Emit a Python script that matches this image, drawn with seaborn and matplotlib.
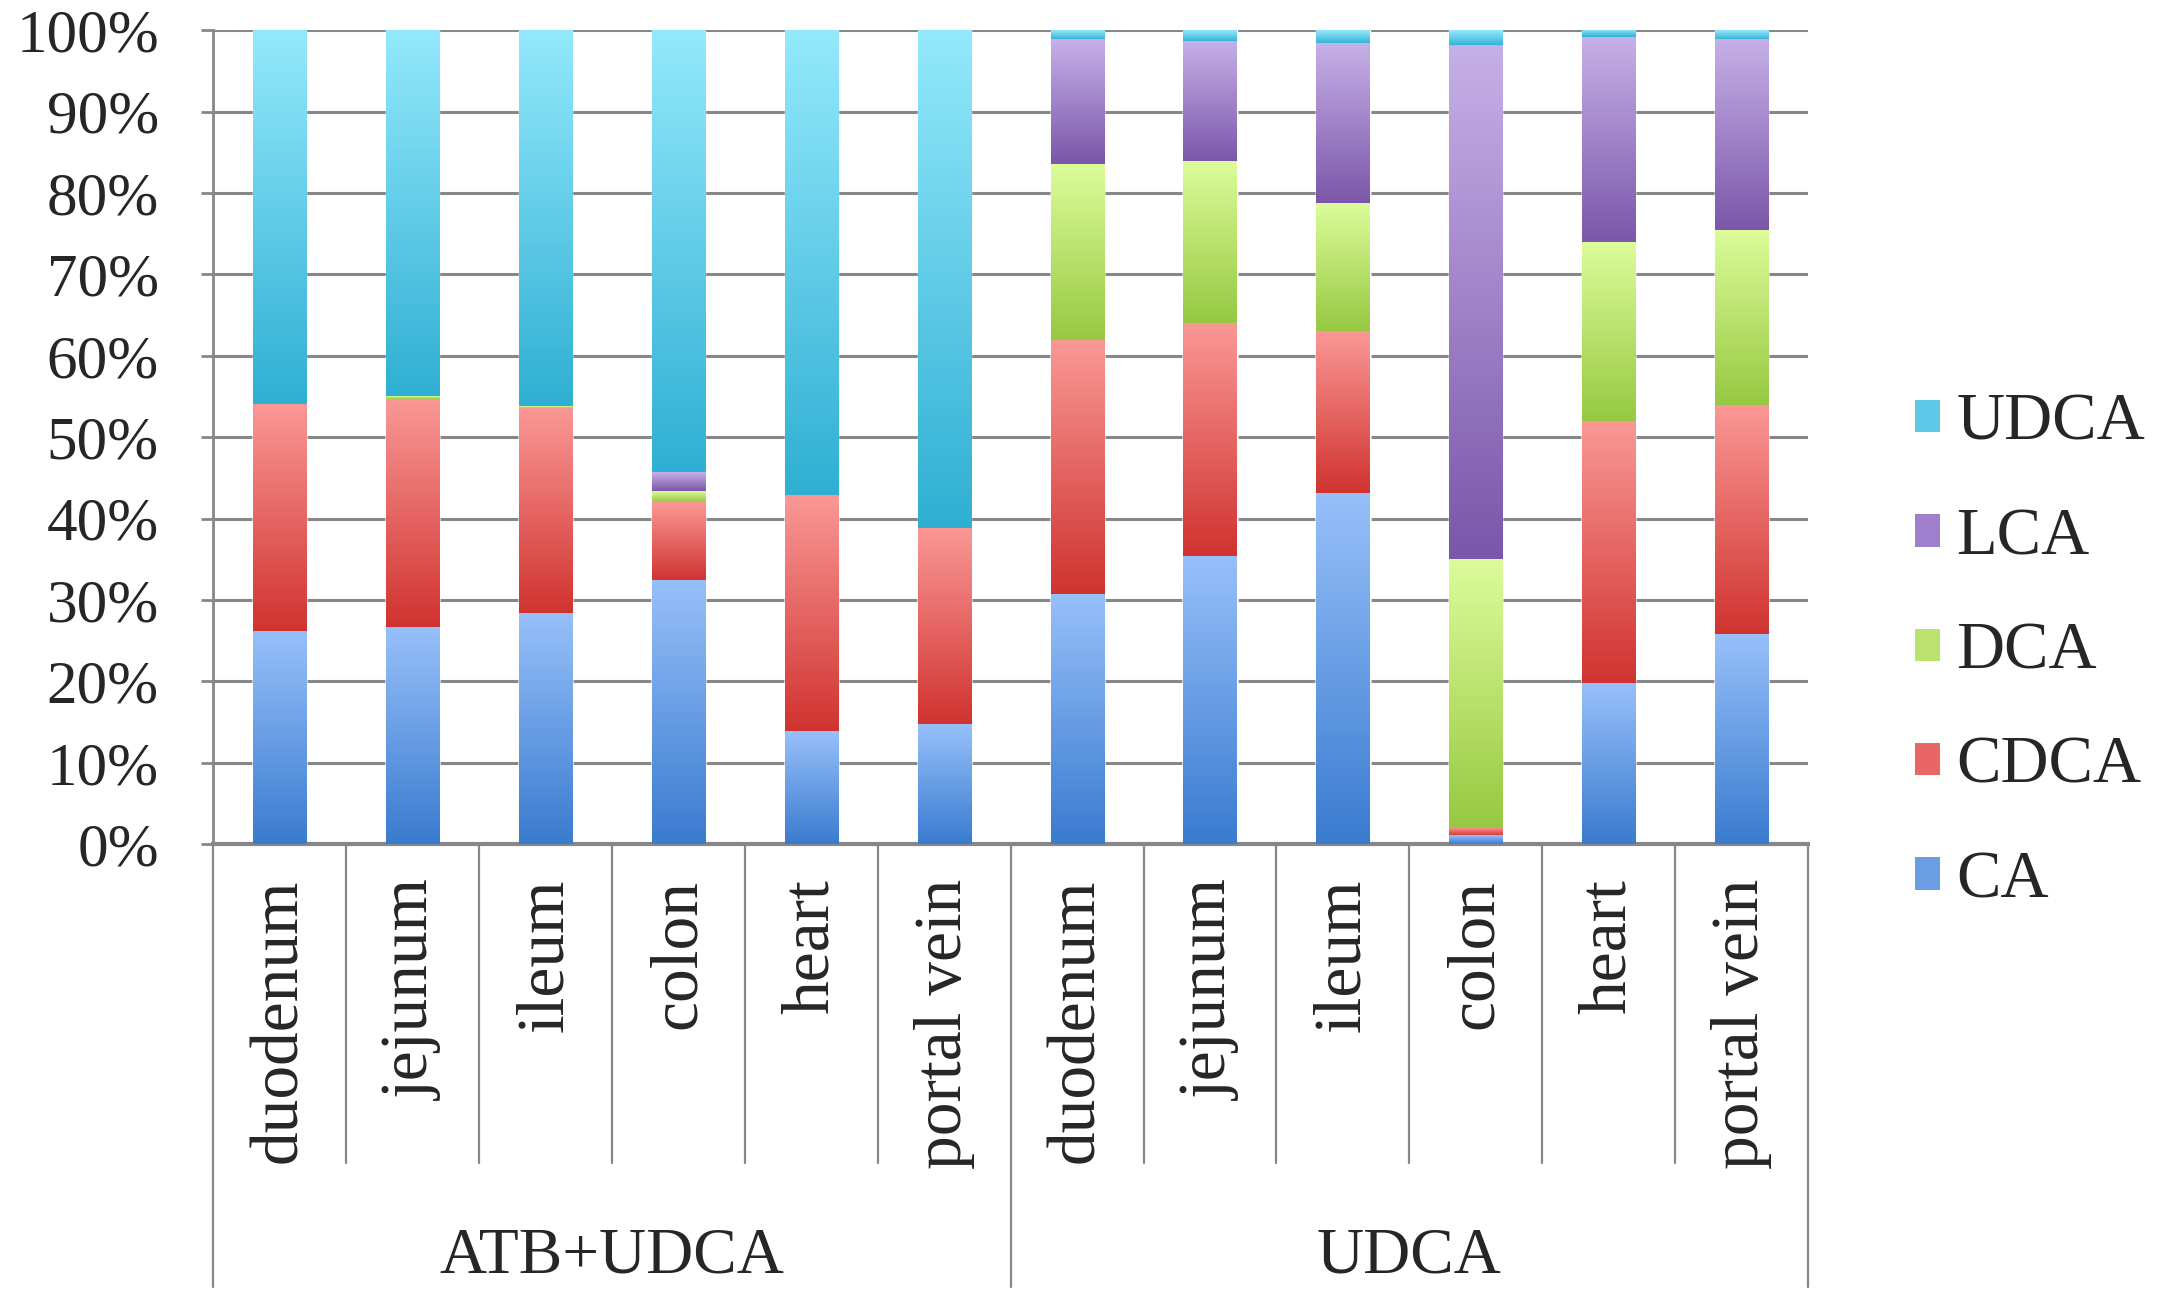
import matplotlib

matplotlib.use("Agg")

import matplotlib.pyplot as plt  # noqa: E402
import matplotlib.transforms as mtransforms  # noqa: E402
import numpy as np  # noqa: E402
import pandas as pd  # noqa: E402
import seaborn as sns  # noqa: E402
from matplotlib.colors import LinearSegmentedColormap  # noqa: E402
from matplotlib.patches import Patch  # noqa: E402

# categories
groups = ["ATB+UDCA", "UDCA"]
sites = ["duodenum", "jejunum", "ileum", "colon", "heart", "portal vein"]

# % of bile acid pool per site, 6 ATB+UDCA then 6 UDCA
ca = [26.1, 26.6, 28.3, 32.4, 13.8, 14.7, 30.7, 35.3, 43.0, 1.0, 19.7, 25.7]
cdca = [28.0, 28.1, 25.3, 9.7, 29.0, 24.1, 31.1, 28.7, 20.0, 1.0, 32.2, 28.2]
dca = [0.0, 0.3, 0.2, 1.3, 0.0, 0.0, 21.7, 19.8, 15.6, 33.0, 22.0, 21.4]
lca = [0.0, 0.0, 0.0, 2.3, 0.0, 0.0, 15.3, 14.8, 19.7, 63.1, 25.2, 23.5]
udca = [45.9, 45.0, 46.2, 54.3, 57.2, 61.2, 1.2, 1.4, 1.7, 1.9, 0.9, 1.2]

series = ["CA", "CDCA", "DCA", "LCA", "UDCA"]
values = [ca, cdca, dca, lca, udca]

# Excel-like gradient per series: (top, bottom)
_GRAD = {
    "CA": ("#97C0FA", "#3A7BCF"),
    "CDCA": ("#FA9896", "#D0332F"),
    "DCA": ("#DCFC9A", "#96C941"),
    "LCA": ("#C6B0E8", "#7B56A9"),
    "UDCA": ("#94E9FC", "#2FAFD3"),
}
_MID = {
    "CA": "#6A9DE3",
    "CDCA": "#E86764",
    "DCA": "#BBE26E",
    "LCA": "#A080CC",
    "UDCA": "#5CC8E5",
}
_LINE = "#878787"

keys = [f"{g}|{s}" for g in groups for s in sites]
df = pd.DataFrame({"key": keys})
running = np.zeros(len(keys))
for name, vals in zip(series, values):
    running = running + np.asarray(vals, dtype=float)
    df[name] = running.copy()

sns.set_theme(style="white")
plt.rcParams["font.family"] = ["Liberation Serif", "DejaVu Serif"]

fig = plt.figure(figsize=(21.59, 13.09), dpi=100)
ax = fig.add_axes([0.0987, 0.355, 0.7388, 0.622])

# stacked bars: draw cumulative totals from the top series down
layers = series[::-1]
for name in layers:
    sns.barplot(data=df, x="key", y=name, order=keys, color=_MID[name],
                saturation=1, width=0.4, ax=ax, zorder=2)

# paint each segment with its own vertical gradient
grad = np.linspace(0, 1, 256).reshape(-1, 1)
n = len(keys)
for li, name in enumerate(layers):
    cmap = LinearSegmentedColormap.from_list(name, [_GRAD[name][1], _GRAD[name][0]])
    for i in range(n):
        p = ax.patches[li * n + i]
        x0, w, top = p.get_x(), p.get_width(), p.get_height()
        bottom = ax.patches[(li + 1) * n + i].get_height() if li + 1 < len(layers) else 0.0
        if top - bottom <= 0.05:
            continue
        ax.imshow(grad, extent=[x0, x0 + w, bottom, top], origin="lower",
                  cmap=cmap, aspect="auto", interpolation="bicubic", zorder=3)

ax.set_xlim(-0.5, n - 0.5)
ax.set_ylim(0, 100)
ax.set_yticks(range(0, 101, 10))
ax.set_yticklabels([f"{v}%" for v in range(0, 101, 10)], fontsize=44)
ax.set_xticks(range(n))
ax.set_xticklabels(sites * 2, rotation=90, va="top", ha="center", fontsize=48.5)
ax.set_xlabel("")
ax.set_ylabel("")
ax.tick_params(axis="x", length=0, pad=25)
ax.tick_params(axis="y", length=9, width=2, color=_LINE, pad=30, direction="out", left=True)

ax.yaxis.grid(True, color=_LINE, linewidth=2.2)
ax.set_axisbelow(True)
for side in ("top", "right"):
    ax.spines[side].set_visible(False)
ax.spines["left"].set_color(_LINE)
ax.spines["left"].set_linewidth(2)
ax.spines["bottom"].set_color(_LINE)
ax.spines["bottom"].set_linewidth(3)

# category separators below the axis and group labels
trans = mtransforms.blended_transform_factory(ax.transData, ax.transAxes)
for k in range(n + 1):
    xk = k - 0.5
    long = k % len(sites) == 0
    ax.plot([xk, xk], [0, -0.544 if long else -0.392], transform=trans,
            color=_LINE, linewidth=1.6, clip_on=False, zorder=1)
for gi, g in enumerate(groups):
    xc = gi * len(sites) + (len(sites) - 1) / 2
    ax.text(xc, -0.507, g, transform=trans, ha="center", va="center", fontsize=47)

handles = [Patch(facecolor=_MID[s], edgecolor="none") for s in layers]
ax.legend(handles, layers, loc="center left", bbox_to_anchor=(1.067, 0.236),
          frameon=False, fontsize=48, handlelength=0.37, handleheight=0.37,
          handletextpad=0.25, labelspacing=0.8, borderaxespad=0, borderpad=0)

fig.savefig("out.png", dpi=100)
plt.close(fig)
